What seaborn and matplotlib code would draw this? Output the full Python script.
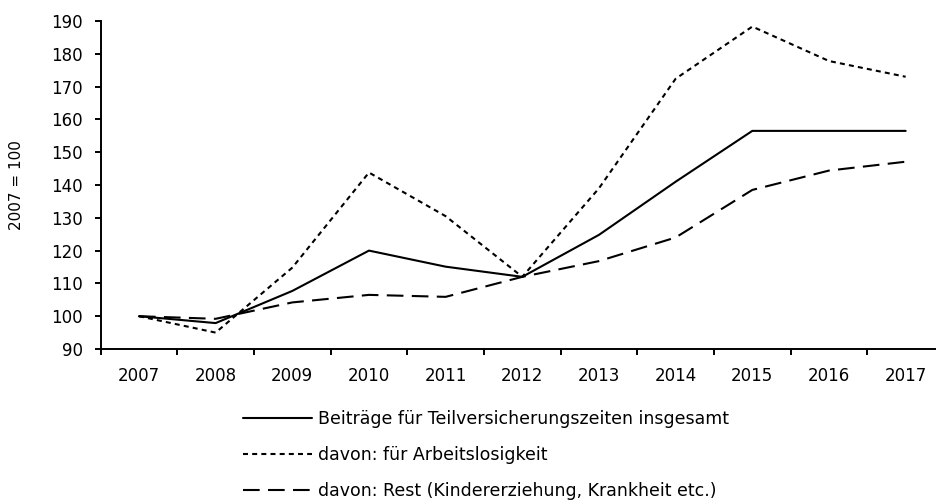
import matplotlib
matplotlib.use("Agg")
import matplotlib.pyplot as plt
from matplotlib.ticker import FixedLocator
import seaborn as sns
import pandas as pd

years = [2007, 2008, 2009, 2010, 2011, 2012, 2013, 2014, 2015, 2016, 2017]
insgesamt = [100.0, 97.9, 107.7, 120.0, 115.1, 112.0, 124.8, 141.0, 156.5, 156.5, 156.5]
arbeitslosigkeit = [100.0, 95.0, 114.8, 143.8, 130.5, 112.0, 139.0, 172.4, 188.3, 177.8, 173.0]
rest = [100.0, 99.2, 104.2, 106.5, 105.9, 112.0, 116.8, 124.0, 138.5, 144.4, 147.1]

series_labels = [
    "Beiträge für Teilversicherungszeiten insgesamt",
    "davon: für Arbeitslosigkeit",
    "davon: Rest (Kindererziehung, Krankheit etc.)",
]
y_label = "2007 = 100"
y_ticks = list(range(90, 191, 10))

sns.set_theme(style="white")
plt.rcParams["font.family"] = ["DejaVu Sans"]
plt.rcParams["text.color"] = "black"

fig = plt.figure(figsize=(9.37, 5.04), dpi=100)
W, H = 937, 504
ax = fig.add_axes([100.6 / W, (H - 349) / H, 843.4 / W, 328 / H])

line_styles = [
    dict(linestyle="-"),
    dict(linestyle=(0, (2.4, 2.0))),
    dict(linestyle=(0, (8, 4))),
]
for values, label, style in zip([insgesamt, arbeitslosigkeit, rest], series_labels, line_styles):
    df = pd.DataFrame({"Jahr": years, "Wert": values})
    sns.lineplot(data=df, x="Jahr", y="Wert", ax=ax, color="black",
                 linewidth=1.5, label=label, **style)

ax.set_xlim(years[0] - 0.5, years[-1] + 0.5)
ax.set_ylim(y_ticks[0], y_ticks[-1])
ax.set_xticks(years)
ax.set_xticklabels([str(y) for y in years])
ax.xaxis.set_minor_locator(FixedLocator([y - 0.5 for y in years] + [years[-1] + 0.5]))
ax.set_yticks(y_ticks)

for side in ["top", "right"]:
    ax.spines[side].set_visible(False)
for side in ["left", "bottom"]:
    ax.spines[side].set_color("black")
    ax.spines[side].set_linewidth(1.4)

ax.tick_params(axis="x", which="major", length=0, pad=13, labelsize=12, colors="black")
ax.tick_params(axis="x", which="minor", bottom=True, length=4, width=1.4, color="black")
ax.tick_params(axis="y", which="major", left=True, length=4, width=1.4, pad=9,
               labelsize=12, colors="black")

ax.set_xlabel("")
ax.set_ylabel("")
fig.text(17 / W, 1 - 185 / H, y_label, rotation=90, ha="center", va="center",
         fontsize=11, color="black")

handles, labels = ax.get_legend_handles_labels()
ax.legend(handles, labels, loc="upper left",
          bbox_to_anchor=(243 / W, 1 - 410 / H), bbox_transform=fig.transFigure,
          frameon=False, fontsize=12.5, handlelength=4.0, handletextpad=0.3,
          labelspacing=1.05, borderpad=0, borderaxespad=0)

fig.savefig("out.png", dpi=100)
